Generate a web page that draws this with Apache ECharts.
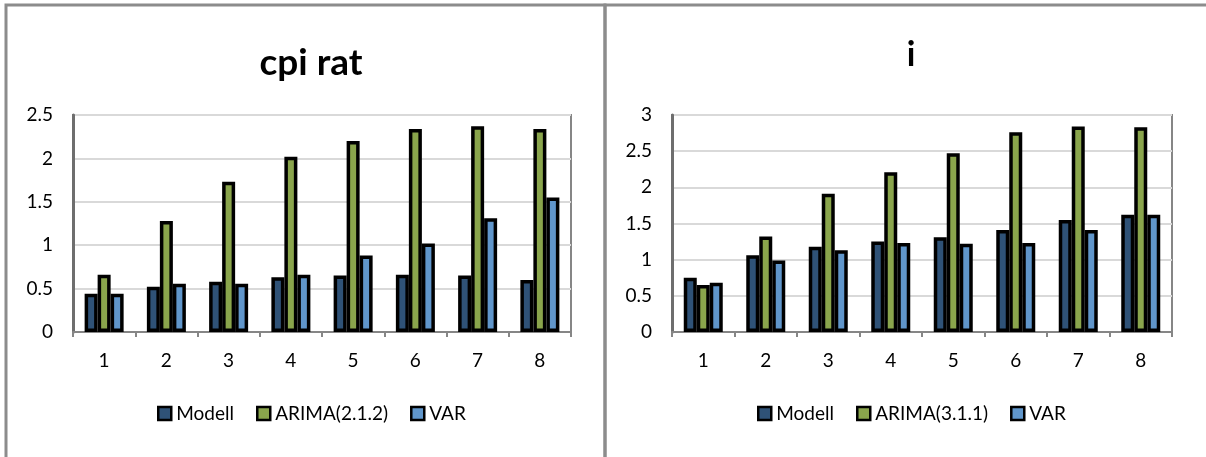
<!DOCTYPE html>
<html>
<head>
<meta charset="utf-8">
<script src="https://cdn.jsdelivr.net/npm/echarts@6/dist/echarts.min.js"></script>
<style>
  html, body { margin: 0; padding: 0; background: #fff; }
  #chart { width: 1206px; height: 457px; }
</style>
</head>
<body>
<div id="chart"></div>
<script>
// Forecast horizons
const horizons = ['1', '2', '3', '4', '5', '6', '7', '8'];

// Panel 1: cpi rat
const cpiTitle = 'cpi rat';
const cpiSeriesNames = ['Modell', 'ARIMA(2.1.2)', 'VAR'];
const cpiModell = [0.44, 0.52, 0.58, 0.63, 0.65, 0.66, 0.65, 0.60];
const cpiArima  = [0.66, 1.28, 1.73, 2.02, 2.20, 2.34, 2.37, 2.34];
const cpiVar    = [0.44, 0.555, 0.555, 0.66, 0.88, 1.02, 1.31, 1.55];
const cpiTicks  = { min: 0, max: 2.5, interval: 0.5 };

// Panel 2: i
const iTitle = 'i';
const iSeriesNames = ['Modell', 'ARIMA(3.1.1)', 'VAR'];
const iModell = [0.75, 1.06, 1.18, 1.25, 1.31, 1.41, 1.55, 1.62];
const iArima  = [0.65, 1.32, 1.91, 2.21, 2.47, 2.76, 2.84, 2.83];
const iVar    = [0.68, 0.99, 1.13, 1.23, 1.22, 1.23, 1.41, 1.62];
const iTicks  = { min: 0, max: 3, interval: 0.5 };

const seriesColors = ['#2F5277', '#8AA54C', '#6096CB'];
const FONT = 'Lato, "Open Sans", sans-serif';

const chart = echarts.init(document.getElementById('chart'), null, { renderer: 'canvas' });

const grids = [
  { left: 73, top: 115, width: 498, height: 217 },
  { left: 672, top: 115, width: 500, height: 217 }
];

function xAxisFor(idx) {
  return {
    type: 'category', gridIndex: idx, data: horizons,
    axisLine: { lineStyle: { color: '#868686', width: 2 } },
    axisTick: { show: true, length: 5, lineStyle: { color: '#868686', width: 2 } },
    axisLabel: { color: '#000', fontFamily: FONT, fontSize: 19, margin: 19 },
    splitLine: { show: false }
  };
}
function yAxisFor(idx, t) {
  return {
    type: 'value', gridIndex: idx, min: t.min, max: t.max, interval: t.interval,
    axisLine: { show: true, lineStyle: { color: '#6e6e6e', width: 3 } },
    axisTick: { show: false },
    axisLabel: { color: '#000', fontFamily: FONT, fontSize: 19, margin: 20 },
    splitLine: { lineStyle: { color: '#D9D9D9', width: 2 } }
  };
}
function barSeries(name, data, color, idx) {
  return {
    type: 'bar', name: name, data: data,
    xAxisIndex: idx, yAxisIndex: idx,
    barWidth: 13, barGap: '0%',
    itemStyle: { color: color, borderColor: '#000', borderWidth: 3.5 },
    emphasis: { disabled: true }
  };
}
function legendFor(names, left) {
  return {
    data: names, left: left, top: 404, padding: 0,
    itemWidth: 13, itemHeight: 13, itemGap: 22, icon: 'rect',
    itemStyle: { borderColor: '#000', borderWidth: 2.5 },
    textStyle: { color: '#000', fontFamily: FONT, fontSize: 19 },
    selectedMode: false
  };
}

chart.setOption({
  animation: false,
  backgroundColor: '#fff',
  title: [
    { text: cpiTitle, left: 306, top: 40, textAlign: 'center',
      textStyle: { fontFamily: FONT, fontWeight: 'bold', fontSize: 37, color: '#000' } },
    { text: iTitle, left: 906, top: 33, textAlign: 'center',
      textStyle: { fontFamily: FONT, fontWeight: 'bold', fontSize: 34, color: '#000' } }
  ],
  grid: grids.map(g => Object.assign({ show: true, borderColor: '#868686', borderWidth: 2, backgroundColor: 'transparent' }, g)),
  xAxis: [xAxisFor(0), xAxisFor(1)],
  yAxis: [yAxisFor(0, cpiTicks), yAxisFor(1, iTicks)],
  legend: [legendFor(cpiSeriesNames, 157), legendFor(iSeriesNames, 757)],
  series: [
    barSeries(cpiSeriesNames[0], cpiModell, seriesColors[0], 0),
    barSeries(cpiSeriesNames[1], cpiArima, seriesColors[1], 0),
    barSeries(cpiSeriesNames[2], cpiVar, seriesColors[2], 0),
    barSeries(iSeriesNames[0], iModell, seriesColors[0], 1),
    barSeries(iSeriesNames[1], iArima, seriesColors[1], 1),
    barSeries(iSeriesNames[2], iVar, seriesColors[2], 1)
  ],
  graphic: [
    { type: 'rect', shape: { x: 6, y: 5, width: 599, height: 480 },
      style: { fill: 'none', stroke: '#8c8c8c', lineWidth: 3 }, z: 100, silent: true },
    { type: 'rect', shape: { x: 605, y: 5, width: 640, height: 480 },
      style: { fill: 'none', stroke: '#8c8c8c', lineWidth: 3 }, z: 100, silent: true }
  ]
});
</script>
</body>
</html>
